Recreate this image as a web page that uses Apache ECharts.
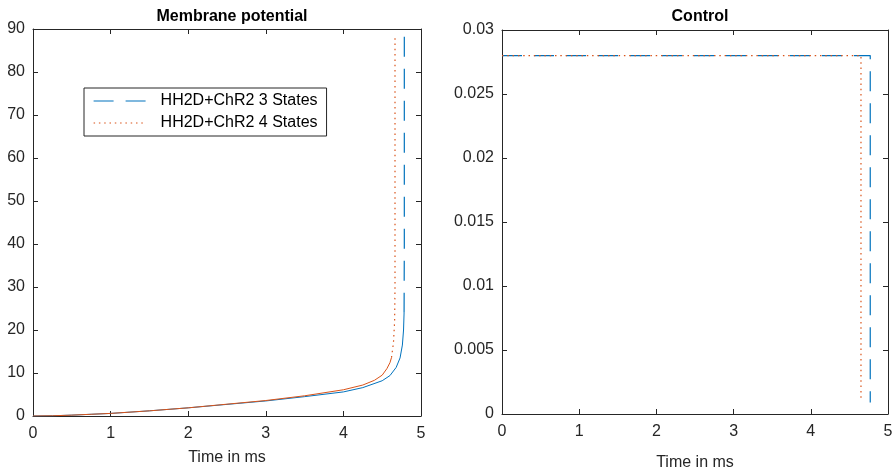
<!DOCTYPE html>
<html><head><meta charset="utf-8">
<script src="https://cdn.jsdelivr.net/npm/echarts@6/dist/echarts.min.js"></script>
<style>html,body{margin:0;padding:0;background:#fff}#c{width:893px;height:473px}</style>
</head><body><div id="c"></div>
<script>
// ---- data ----
const seriesNames = ['HH2D+ChR2 3 States', 'HH2D+ChR2 4 States'];
const xTicks = [0, 1, 2, 3, 4, 5];
const vTicks = [0, 10, 20, 30, 40, 50, 60, 70, 80, 90];
const uTicks = [0, 0.005, 0.01, 0.015, 0.02, 0.025, 0.03];
// membrane potential, 3 states (smooth part, then steep spike)
const v3Curve = [[0,0],[0.25,0.05],[0.5,0.2],[0.75,0.4],[1,0.6],[1.5,1.2],[2,1.9],[2.5,2.7],[3,3.5],[3.5,4.5],[4,5.6],[4.25,6.6],[4.5,8.2],[4.6,9.4],[4.68,11.3],[4.73,13.5],[4.76,16.5],[4.775,20],[4.782,24]];
const v3Spike = [[4.782,24],[4.785,40],[4.785,95]];
// membrane potential, 4 states
const v4Curve = [[0,0],[0.25,0.05],[0.5,0.2],[0.75,0.4],[1,0.6],[1.5,1.2],[2,1.9],[2.5,2.75],[3,3.6],[3.5,4.7],[4,6.1],[4.25,7.2],[4.4,8.3],[4.5,9.5],[4.56,11],[4.6,12.4],[4.62,13.6]];
const v4Spike = [[4.62,13.6],[4.645,17],[4.66,22],[4.665,30],[4.665,88]];
// control
const u3 = [[0,0.028],[4.77,0.028],[4.77,0.0009]];
const u4 = [[0,0.028],[4.65,0.028],[4.65,0.0012]];

const blue = '#0072BD', orange = '#D95319', axc = '#262626';
const font = 'Liberation Sans, Arial, Helvetica, sans-serif';
const dash = [20, 12], dot = [1.5, 3.8];
const fs = 16;

function xAx(gi, show, pos, gap){
  return {gridIndex: gi, type:'value', min:0, max:5, interval:1, position:pos,
    axisLine:{show:true, onZero:false, lineStyle:{color:axc, width:1}},
    axisTick:{show:true, inside:true, length:5, lineStyle:{color:axc}},
    axisLabel:{show:show, color:axc, fontSize:fs, fontFamily:font, margin:10},
    splitLine:{show:false},
    name: show ? 'Time in ms' : '', nameLocation:'middle', nameGap:gap,
    nameTextStyle:{color:axc, fontSize:fs, fontFamily:font}};
}
function yAx(gi, show, pos, max, interval, fmt, margin){
  return {gridIndex: gi, type:'value', min:0, max:max, interval:interval, position:pos,
    axisLine:{show:true, onZero:false, lineStyle:{color:axc, width:1}},
    axisTick:{show:true, inside:true, length:5, lineStyle:{color:axc}},
    axisLabel:{show:show, color:axc, fontSize:fs, fontFamily:font, margin:margin, formatter:fmt},
    splitLine:{show:false}};
}
const uFmt = v => String(parseFloat(v.toFixed(4)));

const chart = echarts.init(document.getElementById('c'), null, {renderer:'canvas'});
chart.setOption({
  animation:false,
  backgroundColor:'#fff',
  title:[
    {text:'Membrane potential', left:227, top:4, textAlign:'center', textStyle:{fontSize:fs, fontWeight:'bold', color:'#000', fontFamily:font}},
    {text:'Control', left:695, top:4, textAlign:'center', textStyle:{fontSize:fs, fontWeight:'bold', color:'#000', fontFamily:font}}
  ],
  grid:[
    {left:33, right:472, top:29, bottom:57, outerBoundsMode:'none', containLabel:false},
    {left:502, right:5, top:30, bottom:59, outerBoundsMode:'none', containLabel:false}
  ],
  legend:{
    data: [
      {name:seriesNames[0], itemStyle:{opacity:0}, lineStyle:{color:blue, width:1.2, type:dash}},
      {name:seriesNames[1], itemStyle:{opacity:0}, lineStyle:{color:orange, width:1.2, type:dot}}
    ],
    orient:'vertical', left:84, top:88,
    backgroundColor:'#fff', borderColor:'#262626', borderWidth:1,
    padding:[5,9,5,9], itemGap:6, itemWidth:53, itemHeight:16,
    textStyle:{fontSize:fs, color:'#000', fontFamily:font, padding:[0,0,0,9]}
  },
  xAxis:[xAx(0,true,'bottom',34), xAx(0,false,'top',0), xAx(1,true,'bottom',41), xAx(1,false,'top',0)],
  yAxis:[yAx(0,true,'left',90,10,null,8), yAx(0,false,'right',90,10,null,8),
         yAx(1,true,'left',0.03,0.005,uFmt,8), yAx(1,false,'right',0.03,0.005,uFmt,8)],
  series:[
    {type:'line', xAxisIndex:0, yAxisIndex:0, data:v3Curve, showSymbol:false, symbol:'none', lineStyle:{color:blue, width:1}, itemStyle:{color:blue}},
    {name:seriesNames[0], type:'line', xAxisIndex:0, yAxisIndex:0, data:v3Spike, symbol:'none', clip:true, lineStyle:{color:blue, width:1.2, type:dash}, itemStyle:{color:blue}},
    {type:'line', xAxisIndex:0, yAxisIndex:0, data:v4Curve, symbol:'none', lineStyle:{color:orange, width:1}, itemStyle:{color:orange}},
    {name:seriesNames[1], type:'line', xAxisIndex:0, yAxisIndex:0, data:v4Spike, symbol:'none', lineStyle:{color:orange, width:1.2, type:dot}, itemStyle:{color:orange}},
    {type:'line', xAxisIndex:2, yAxisIndex:2, data:u3, symbol:'none', lineStyle:{color:blue, width:1.2, type:dash}},
    {type:'line', xAxisIndex:2, yAxisIndex:2, data:u4, symbol:'none', lineStyle:{color:orange, width:1.2, type:dot}}
  ]
});
</script></body></html>
